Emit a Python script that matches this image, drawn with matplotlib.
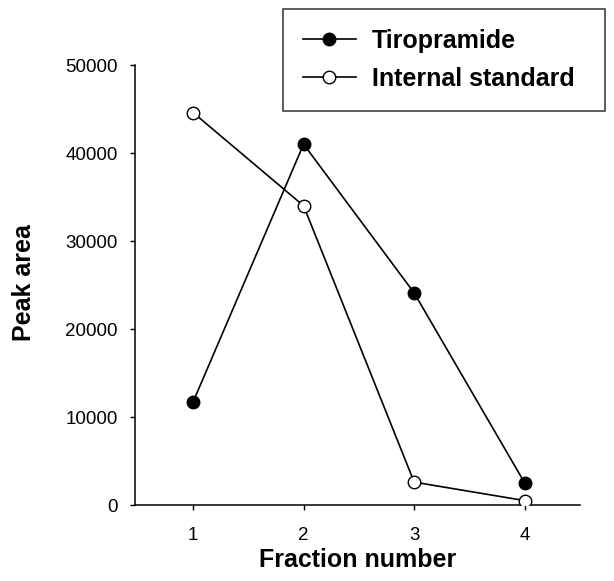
import matplotlib
matplotlib.use("Agg")
import matplotlib.pyplot as plt

fractions = [1, 2, 3, 4]
tiropramide = [11700, 41000, 24100, 2500]
internal_standard = [44600, 34000, 2600, 500]
yticks = [0, 10000, 20000, 30000, 40000, 50000]

plt.rcParams['font.family'] = ['Liberation Sans', 'DejaVu Sans']

fig = plt.figure(figsize=(6.14, 5.81), dpi=100)
ax = fig.add_axes([135/614, 1-505/581, (580-135)/614, (505-65)/581])

ax.plot(fractions, tiropramide, '-o', color='black', markerfacecolor='black',
        markeredgecolor='black', markersize=9, linewidth=1.2, label='Tiropramide', zorder=3)
ax.plot(fractions, internal_standard, '-o', color='black', markerfacecolor='white',
        markeredgecolor='black', markersize=9, linewidth=1.2, label='Internal standard', zorder=3)

ax.set_xlim(0.475, 4.5)
ax.set_ylim(0, 50000)
ax.set_xticks(fractions)
ax.set_yticks(yticks)
ax.set_yticklabels([str(v) for v in yticks])
ax.spines['top'].set_visible(False)
ax.spines['right'].set_visible(False)
for s in ['left', 'bottom']:
    ax.spines[s].set_linewidth(1.1)
ax.tick_params(direction='out', length=3.5, width=1, labelsize=13.5)
ax.tick_params(axis='y', pad=9)
ax.tick_params(axis='x', pad=12)

ax.set_xlabel('Fraction number', fontsize=18, fontweight='bold')
ax.set_ylabel('Peak area', fontsize=18, fontweight='bold')
ax.xaxis.set_label_coords((358-135)/445, -(560-505)/440)
ax.yaxis.set_label_coords(-(135-24)/445, (505-283)/440)
ax.xaxis.label.set_va('center')
ax.yaxis.label.set_va('center')

leg = fig.legend(loc='upper left', bbox_to_anchor=(283/614, 1-15/581, (605-283)/614, 0.01),
                 mode='expand', frameon=True, fancybox=False, edgecolor='black',
                 prop={'weight': 'bold', 'size': 18}, handlelength=2.1,
                 borderpad=0.8, labelspacing=0.55, handletextpad=0.65, borderaxespad=0)
leg.get_frame().set_linewidth(1.1)

fig.savefig('out.png', dpi=100)
